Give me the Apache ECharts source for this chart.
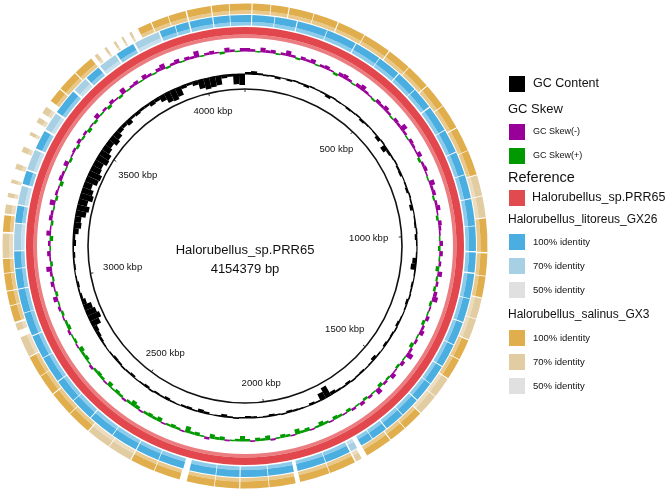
<!DOCTYPE html>
<html><head><meta charset="utf-8">
<script src="https://cdn.jsdelivr.net/npm/echarts@6/dist/echarts.min.js"></script>
<style>html,body{margin:0;padding:0;background:#fff}#c{width:670px;height:492px}</style>
</head><body><div id="c"></div>
<script>
// ---------------- data ----------------
const genomeLength = 4154379;
const genomeName = 'Halorubellus_sp.PRR65';
const tickValues = [500000, 1000000, 1500000, 2000000, 2500000, 3000000, 3500000, 4000000];
const tickLabels = ['500 kbp', '1000 kbp', '1500 kbp', '2000 kbp', '2500 kbp', '3000 kbp', '3500 kbp', '4000 kbp'];

// GC content deviation per window (180 windows), + outward / - inward
const gcContent = [
  2, 3, 1.5,
  -1,1,-2,0.5,-1.5,1,-1,-2,1,0.5,-1,-2.5,1,-1,0.5,-1.5,-1,1,-2,-1,0.5,-1,-3,1,
  -5,-2,
  -1,1,-1.5,-2,0.5,-1,-2,1,-1,-3,0.5,-1,-1.5,1,-2,-1,0.5,-1,-4,
  -5,
  -1,0.5,-1.5,-1,1,-2,-1,0.5,-1,-2,1,-1.5,-1,-2,0.5,-1,-3,-1,0.5,-1.5,-1,1,-2,-1,-1.5,-3,
  -11,-7,
  -1,-2,0.5,-1,-1.5,-2,1,-1,-2,-1,0.5,-1.5,-2,-1,1,-1,-2.5,-1,0.5,-2,
  -3,-1,-2,-1.5,0.5,-1,-2,-1,-1.5,1,-2,-1,-0.5,-2,-1,1,-1.5,-2,-1,0.5,-1,-2,-3,-4,
  -9,-12,-10,-8,-4,-2,
  -1,-2,-1,0.5,-1.5,-1,-2,-1,-3,-2,-5,-7,-6,
  -10,-12,-9,-13,-11,-8,-12,-13,-10,-9,-12,-11,-8,-6,-9,-7,-4,-3,-5,-2,-3,
  -2,-2,-4,-3,-6,-10,-11,-9,-3,
  -2,-4,-9,-11,-10,-9,-3,-2,-10,-11
];

// GC skew per window (240 windows), negative = GC Skew(-), positive = GC Skew(+)
const gcSkew = [
  -3,-2,1,-4,-2,-3,1,-2,-5,-2, 1.5,-3,-2,-4,1,-2,-3,-1,2,-3,
  -4,-2,1,-3,-5,-2,-1,1.5,-3,-2, -4,-2,1,-3,-2,-6,-2,1,-3,-2,
  -1,-4,2,-2,-3,-1,1,-5,-2,-3, 1.5,-2,-4,-1,2,-3,-2,-1,1,-3,
  2,-3,1,-2,3,-4,1.5,-2,2,-3, -5,2,-1,1,-3,2.5,-2,-4,1,-2,
  3,-2,-6,1,-3,2,-1,-4,1.5,-2, 3,-5,1,-2,2,-3,1,-2,2.5,-1,
  2,3,-1,2,4,1.5,-1,3,2,5, -1,2,3,1,-1.5,4,2,3,-1,2,
  5,2,1,-1,3,2,4,-2,1,3, 2,6,-1,2,3,1.5,-1,4,2,3,
  2,-1,3,5,2,-1.5,2,3,1,4, -1,2,3,2,-2,1,3,2,4,-1,
  2,1,-2,3,2,-1,2,
  -2,1,-4,2,-1,-3,1.5,-2,-5,2, -1,-3,1,-2,3,-4,-1,2,-3,-2,
  1,-5,2,-2,-1,3,-3,-2,1,-4, 2,-1,-2,
  2,-3,1.5,-2,3,-1,2,-4,1,-2, 2.5,-3,-1,2,-5,1,-2,-3,1,-4,
  -2,1,-3,-5,1.5,-2,-4,1,-3,-2, -6,1,-2,-3,-1,2,-4,-2,1,-3
];

// BLAST hits: [start kbp, end kbp, identity %]
const referenceHits = [[0, 4154.379, 100]];
const litoreusHits = [
  [0,18,100],[21,85,100],[87,150,100],[153,240,100],[242,330,100],[333,410,100],[412,480,100],
  [483,545,100],[547,610,100],[614,690,100],[692,760,100],[763,830,100],[832,900,100],
  [903,980,100],[982,1053,100],[1057,1115,100],[1119,1190,100],[1192,1260,100],[1263,1330,100],
  [1332,1400,100],[1403,1460,100],[1462,1520,100],[1523,1580,100],[1582,1640,100],[1643,1690,100],
  [1692,1728,100],[1742,1762,70],[1766,1840,100],[1842,1925,100],[1936,2010,100],[2012,2090,100],
  [2093,2160,100],[2162,2238,100],[2256,2330,100],[2332,2400,100],[2403,2480,100],[2482,2560,100],
  [2563,2630,100],[2632,2700,100],[2703,2780,100],[2782,2850,100],[2853,2920,100],[2922,2990,100],
  [2993,3050,100],[3052,3100,100],[3103,3180,70],[3183,3232,100],[3236,3290,70],[3296,3335,100],
  [3340,3400,70],[3405,3460,100],[3466,3520,70],[3525,3600,100],[3606,3650,70],[3655,3700,100],
  [3706,3760,70],[3765,3820,100],[3826,3900,70],[3904,3950,100],[3952,3990,100],[3994,4060,100],
  [4063,4110,100],[4112,4154.379,100]
];
const salinusHits = [
  [0,18,100],[21,70,100],[72,120,100],[123,190,100],[192,260,100],[263,340,100],[342,420,100],
  [423,490,100],[492,560,100],[563,630,100],[632,700,100],[703,770,100],[772,840,100],
  [843,900,70],[902,960,70],[963,1055,100],[1059,1120,100],[1122,1180,100],[1183,1240,70],
  [1242,1300,70],[1303,1360,100],[1362,1420,100],[1423,1480,70],[1482,1540,70],[1543,1600,100],
  [1602,1650,100],[1653,1728,100],[1745,1762,70],[1766,1840,100],[1842,1925,100],[1938,2010,100],
  [2012,2090,100],[2093,2160,100],[2162,2238,100],[2258,2330,100],[2332,2400,100],[2403,2470,70],
  [2472,2540,70],[2543,2610,100],[2612,2680,100],[2683,2740,100],[2742,2800,100],[2803,2860,70],
  [2880,2900,70],[2905,2950,100],[2952,2990,100],[2993,3040,100],[3042,3080,100],[3083,3150,70],
  [3155,3200,100],[3205,3230,70],[3250,3262,70],[3290,3300,70],[3330,3345,70],[3380,3395,70],
  [3430,3440,70],[3470,3485,70],[3500,3520,70],[3540,3580,100],[3583,3640,100],[3643,3700,100],
  [3712,3722,70],[3745,3752,70],[3775,3782,70],[3800,3806,70],[3825,3832,70],[3852,3890,100],
  [3893,3940,100],[3942,3990,100],[3994,4060,100],[4063,4110,100],[4112,4154.379,100]
];

// ---------------- drawing ----------------
const chart = echarts.init(document.getElementById('c'));
const FONT = '"Liberation Sans", Arial, sans-serif';

function sector(api, rA, rB, vA, vB, fill) {
  const c = api.coord([0, vA]);
  const pA0 = api.coord([rA, vA]);
  const pA = api.coord([rB, vA]);
  const pB = api.coord([rB, vB]);
  let a0 = Math.atan2(pA[1] - c[1], pA[0] - c[0]);
  let a1 = Math.atan2(pB[1] - c[1], pB[0] - c[0]);
  if (a1 - a0 <= 1e-9) a1 += Math.PI * 2;
  return {
    type: 'sector', silent: true,
    shape: { cx: c[0], cy: c[1], r0: Math.hypot(pA0[0] - c[0], pA0[1] - c[1]), r: Math.hypot(pA[0] - c[0], pA[1] - c[1]),
             startAngle: a0, endAngle: a1, clockwise: true },
    style: { fill: fill }
  };
}

function ringSeries(hits, rIn, rMid, rOut, palette) {
  return {
    type: 'custom', coordinateSystem: 'polar', polarIndex: 0, silent: true,
    data: hits,
    renderItem: function (params, api) {
      const s = api.value(0) * 1000, e = api.value(1) * 1000, id = api.value(2);
      const col = palette[id];
      return { type: 'group', children: [
        sector(api, rIn, rMid, s, e, col[1]),
        sector(api, rMid, rOut, s, e, col[0])
      ]};
    }
  };
}

const gcWin = genomeLength / gcContent.length;
const skewWin = genomeLength / gcSkew.length;
const GC_BASE = 172, SKEW_BASE = 195;

const legendItems = [];
function sq(y, color) { legendItems.push({ type: 'rect', shape: { x: 509, y: y, width: 16, height: 16 }, style: { fill: color } }); }
function tx(x, y, text, size) {
  legendItems.push({ type: 'text', x: x, y: y, style: { text: text, font: size + 'px ' + FONT, fill: '#111',
    align: 'left', verticalAlign: 'middle', textAlign: 'left', textVerticalAlign: 'middle' } });
}
sq(76, '#000000'); tx(533, 84, 'GC Content', 12.5);
tx(508, 109, 'GC Skew', 13);
sq(124, '#990099'); tx(533, 132, 'GC Skew(-)', 9);
sq(148, '#009900'); tx(533, 156, 'GC Skew(+)', 9);
tx(508, 178, 'Reference', 14.5);
sq(190, '#e14a4f'); tx(532, 198, genomeName, 12.5);
tx(508, 220, 'Halorubellus_litoreus_GX26', 12);
sq(234, '#4aaee0'); tx(533, 242, '100% identity', 9.5);
sq(258, '#a8d0e4'); tx(533, 266, '70% identity', 9.5);
sq(282, '#e0e0e0'); tx(533, 290, '50% identity', 9.5);
tx(508, 315, 'Halorubellus_salinus_GX3', 12);
sq(330, '#e0ae4c'); tx(533, 338, '100% identity', 9.5);
sq(354, '#e2cca1'); tx(533, 362, '70% identity', 9.5);
sq(378, '#e0e0e0'); tx(533, 386, '50% identity', 9.5);

legendItems.push({ type: 'text', x: 245, y: 250, style: { text: genomeName, font: '13px ' + FONT, fill: '#111', align: 'center', verticalAlign: 'middle', textAlign: 'center', textVerticalAlign: 'middle' } });
legendItems.push({ type: 'text', x: 245, y: 269, style: { text: genomeLength + ' bp', font: '13px ' + FONT, fill: '#111', align: 'center', verticalAlign: 'middle', textAlign: 'center', textVerticalAlign: 'middle' } });

const option = {
  backgroundColor: '#ffffff',
  animation: false,
  polar: [
    { center: [245, 246], radius: [0, 243] },
    { center: [245, 246], radius: [0, 157] }
  ],
  angleAxis: [
    { polarIndex: 0, type: 'value', min: 0, max: genomeLength, startAngle: 90, clockwise: true, show: false },
    { polarIndex: 1, type: 'value', min: 0, max: genomeLength, interval: 500000, startAngle: 90, clockwise: true,
      axisLine: { show: true, lineStyle: { color: '#111', width: 1.6 } },
      axisTick: { show: true, inside: true, length: 3, lineStyle: { color: '#333', width: 1 } },
      axisLabel: { show: false }, splitLine: { show: false } }
  ],
  radiusAxis: [
    { polarIndex: 0, type: 'value', min: 0, max: 243, show: false },
    { polarIndex: 1, type: 'value', min: 0, max: 157, show: false }
  ],
  series: [
    ringSeries(referenceHits, 208, 211.5, 219, { 100: ['#e1474c', '#eb7d80'] }),
    ringSeries(litoreusHits, 220.5, 224, 231, { 100: ['#4aaee0', '#8ccbea'], 70: ['#a8d0e4', '#c6e0ee'], 50: ['#dddddd', '#e8e8e8'] }),
    ringSeries(salinusHits, 232, 235.5, 242.5, { 100: ['#e0ae4c', '#e9c88c'], 70: ['#e2cca1', '#ecdcbf'], 50: ['#dddddd', '#e8e8e8'] }),
    {
      type: 'custom', coordinateSystem: 'polar', polarIndex: 0, silent: true,
      data: gcSkew.map(function (v, i) { return [i, v]; }),
      renderItem: function (params, api) {
        const i = api.value(0), v = api.value(1);
        const s = i * skewWin, e = (i + 1) * skewWin;
        const col = v < 0 ? '#990099' : '#009900';
        const kids = [sector(api, SKEW_BASE - 0.6, SKEW_BASE + 0.6, s, e, col)];
        if (v < 0) kids.push(sector(api, SKEW_BASE, SKEW_BASE - v, s, e, col));
        else kids.push(sector(api, SKEW_BASE - v, SKEW_BASE, s, e, col));
        return { type: 'group', children: kids };
      }
    },
    {
      type: 'custom', coordinateSystem: 'polar', polarIndex: 0, silent: true,
      data: gcContent.map(function (v, i) { return [i, v]; }),
      renderItem: function (params, api) {
        const i = api.value(0), v = api.value(1);
        const s = i * gcWin, e = (i + 1) * gcWin;
        const kids = [sector(api, GC_BASE - 0.6, GC_BASE + 0.6, s, e, '#000000')];
        const r0 = GC_BASE + Math.min(0, v), r1 = GC_BASE + Math.max(0, v);
        if (r1 - r0 > 0.6) kids.push(sector(api, r0, r1, s, e, '#000000'));
        return { type: 'group', children: kids };
      }
    },
    {
      type: 'custom', coordinateSystem: 'polar', polarIndex: 0, silent: true,
      data: tickValues.map(function (v, i) { return [i, v]; }),
      renderItem: function (params, api) {
        const i = api.value(0), v = api.value(1);
        const label = tickLabels[i];
        const c = api.coord([0, v]);
        const p = api.coord([145, v]);
        const dx = (p[0] - c[0]) / 145, dy = (p[1] - c[1]) / 145;
        const hw = label.length * 2.65, hh = 6;
        const rc = 145 - (hw * dx * dx + hh * dy * dy);
        const q = api.coord([rc, v]);
        return { type: 'text', silent: true, x: q[0], y: q[1],
          style: { text: label, font: '9.5px ' + FONT, fill: '#111', align: 'center', verticalAlign: 'middle',
                   textAlign: 'center', textVerticalAlign: 'middle' } };
      }
    }
  ],
  graphic: legendItems
};
chart.setOption(option);
</script>
</body></html>
